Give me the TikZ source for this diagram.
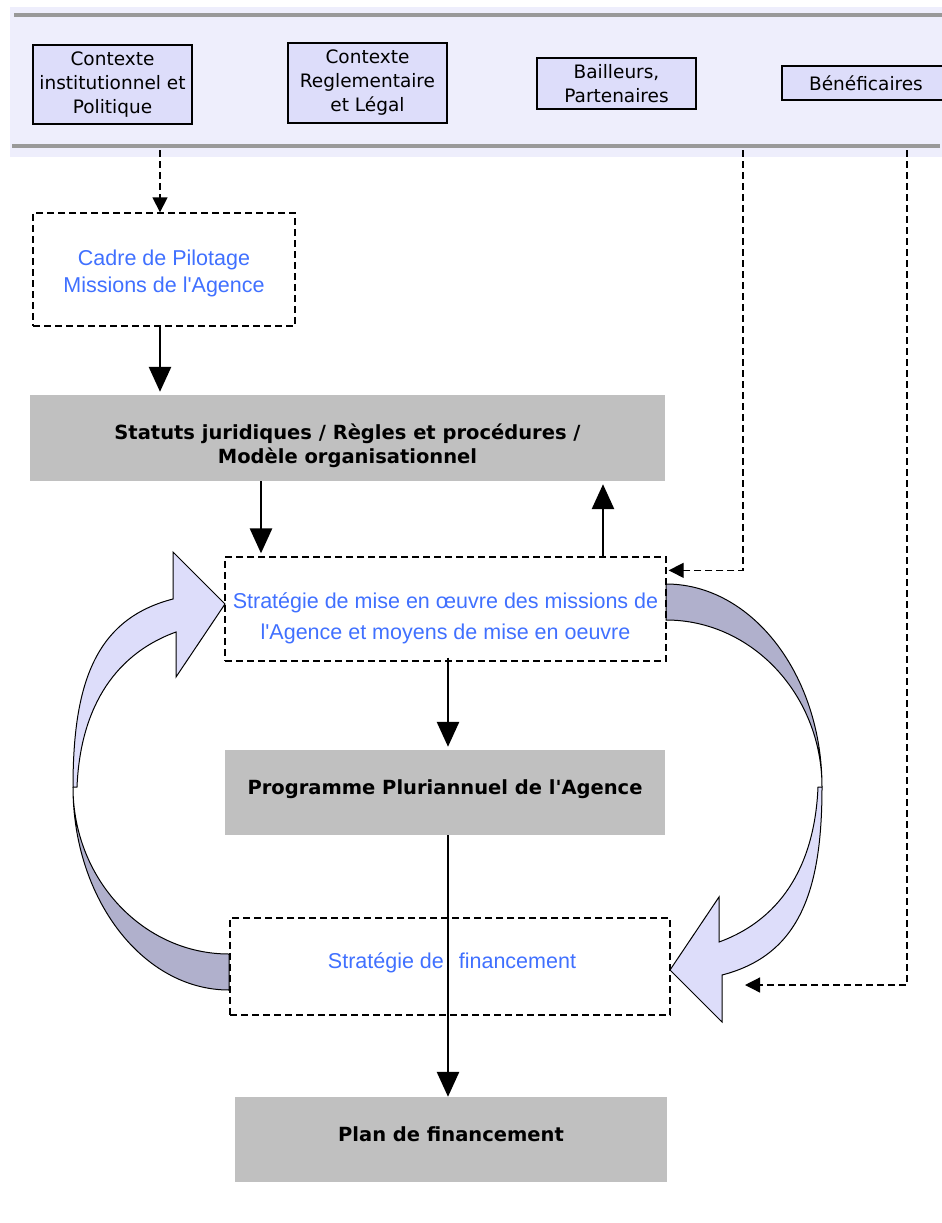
\documentclass[tikz,border=0pt]{standalone}
\usepackage{fontspec}
\setmainfont{Liberation Sans}
\newfontfamily\dvs{DejaVu Sans}
\usetikzlibrary{arrows.meta,calc}
\definecolor{band}{RGB}{238,238,252}
\definecolor{lav}{RGB}{221,221,250}
\definecolor{darklav}{RGB}{176,176,204}
\definecolor{gboxc}{RGB}{192,192,192}
\definecolor{bluetxt}{RGB}{64,112,255}
\definecolor{gline}{RGB}{153,153,153}
\begin{document}
\begin{tikzpicture}[x=1pt,y=-1pt,
 ctxbox/.style={draw=black, line width=1.2pt, fill=lav, align=center, font=\dvs\fontsize{18.5}{24}\selectfont, inner sep=0pt},
 dbox/.style={draw=black, line width=1.3pt, dash pattern=on 7pt off 4pt, inner sep=0pt},
 bluetext/.style={align=center, text=bluetxt, font=\fontsize{21.5}{27.5}\selectfont, inner sep=0pt},
 gbox/.style={fill=gboxc, inner sep=0pt},
 boldtext/.style={align=center, font=\dvs\bfseries\fontsize{19.5}{24}\selectfont, inner sep=0pt},
 solidarr/.style={line width=2.8pt, -{Triangle[length=25pt,width=22pt]}, shorten >=3pt},
 dasharr/.style={line width=1.3pt, dash pattern=on 7pt off 4pt, -{Triangle[length=15pt,width=15pt]}},
 darkband/.style={fill=darklav, draw=black, line width=1pt},
 lightband/.style={fill=lav, draw=black, line width=1pt, line join=miter}]
\useasboundingbox (0,0) rectangle (942,1223);
% top band
\fill[band] (10,7) rectangle (942,157);
\draw[gline, line width=4pt] (14,15) -- (942,15);
\draw[gline, line width=4pt] (12,146) -- (940,146);
\coordinate (tapA) at (160,150);
\coordinate (tapB) at (743,150);
\coordinate (tapC) at (907,150);
\coordinate (xL) at (261,0);
\coordinate (xR) at (603,0);
\coordinate (xM) at (448,0);
\coordinate (benEnd) at (745,985);
% context boxes
\node[ctxbox, minimum width=159pt, minimum height=79pt] (ctx1) at (112.5,84.5) {Contexte\\institutionnel et\\Politique};
\node[ctxbox, minimum width=159pt, minimum height=80pt] (ctx2) at (367.5,83) {Contexte\\Reglementaire\\et Légal};
\node[ctxbox, minimum width=159pt, minimum height=51pt] (bail) at (616.5,83.5) {Bailleurs,\\Partenaires};
\node[ctxbox, minimum width=168pt, minimum height=34pt] (benef) at (866,83) {Bénéficaires};
% curved arrows
\path[lightband] (822,787) .. controls (822,890) and (800,955) .. (722,975) -- (722,1022) -- (670,970) -- (719,897) -- (719,942) .. controls (785,918) and (815,860) .. (818,787) -- cycle;
\path[darkband] (666,584) .. controls (752,584) and (822,675) .. (822,787) .. controls (822,695) and (752,620) .. (666,620) -- cycle;
\begin{scope}[rotate around={180:(447.5,787)}]
\path[lightband] (822,787) .. controls (822,890) and (800,955) .. (722,975) -- (722,1022) -- (670,970) -- (719,897) -- (719,942) .. controls (785,918) and (815,860) .. (818,787) -- cycle;
\path[darkband] (666,584) .. controls (752,584) and (822,675) .. (822,787) .. controls (822,695) and (752,620) .. (666,620) -- cycle;
\end{scope}
% main boxes
\node[dbox, minimum width=262pt, minimum height=113pt] (cadre) at (164,269.5) {};
\node[bluetext] (cadreT) at ($(cadre.center)+(0,4)$) {Cadre de Pilotage\\Missions de l\textquotesingle Agence};
\node[gbox, minimum width=635pt, minimum height=86pt] (statuts) at (347.5,438) {};
\node[boldtext] (statutsT) at ($(statuts.center)+(0,8)$) {Statuts juridiques / Règles et procédures /\\Modèle organisationnel};
\node[dbox, minimum width=441pt, minimum height=104pt] (strat) at (445.5,609) {};
\node[bluetext, font=\fontsize{21.5}{31}\selectfont] (stratT) at ($(strat.center)+(0,9)$) {Stratégie de mise en œuvre des missions de\\l\textquotesingle Agence et moyens de mise en oeuvre};
\node[gbox, minimum width=440pt, minimum height=85pt] (prog) at (445,792.5) {};
\node[boldtext] (progT) at ($(prog.center)+(0,-3)$) {Programme Pluriannuel de l\textquotesingle Agence};
\node[dbox, minimum width=440pt, minimum height=97pt] (sfin) at (450,966.5) {};
\node[bluetext] (sfinT) at ($(sfin.center)+(2,-4)$) {Stratégie de\hspace{15pt}financement};
\node[gbox, minimum width=432pt, minimum height=85pt] (plan) at (451,1139.5) {};
\node[boldtext] (planT) at ($(plan.center)+(0,-5)$) {Plan de financement};
% connectors
\draw[dasharr] (tapA) -- (cadre.north -| tapA);
\draw[solidarr] (cadre.south -| tapA) -- (statuts.north -| tapA);
\draw[solidarr] (statuts.south -| xL) -- (strat.north -| xL);
\draw[solidarr] (strat.north -| xR) -- (statuts.south -| xR);
\draw[solidarr] ([yshift=4pt]strat.south -| xM) -- (prog.north -| xM);
\draw[solidarr, shorten >=0pt] (prog.south -| xM) -- (plan.north -| xM);
\draw[dasharr] (tapB) |- ($(strat.north east)+(2,14)$);
\draw[dasharr] (tapC) |- (benEnd);
\end{tikzpicture}
\end{document}
